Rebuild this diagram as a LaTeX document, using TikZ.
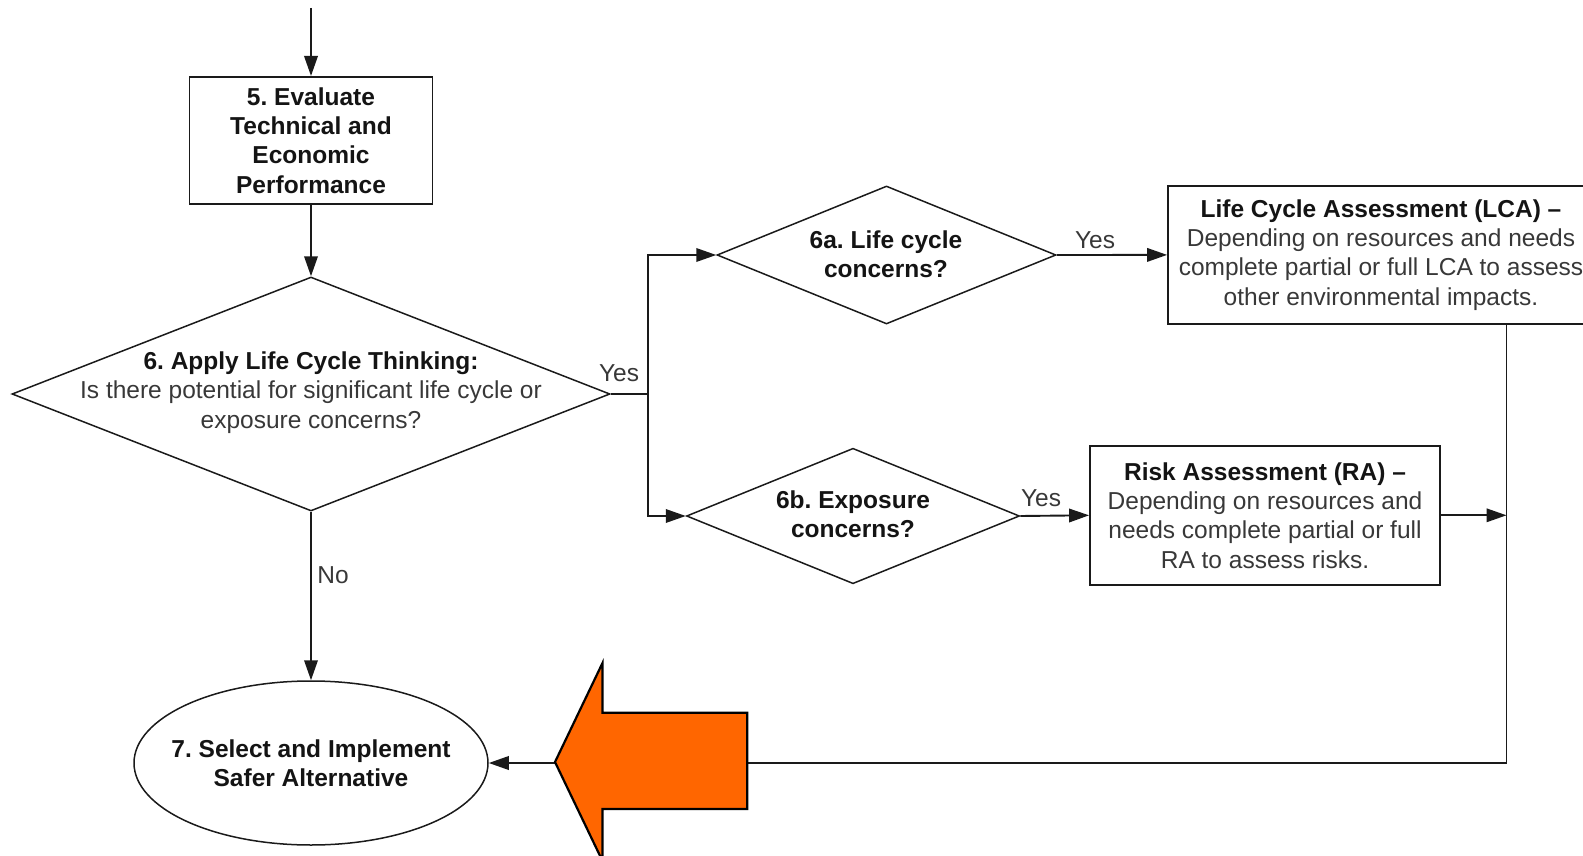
\documentclass[tikz,border=0pt]{standalone}
\usepackage{fontspec}
\setmainfont{Liberation Sans}
\usetikzlibrary{shapes.geometric,arrows.meta}
\definecolor{linec}{HTML}{1A1A1A}
\definecolor{txtc}{HTML}{383838}
\definecolor{boldc}{HTML}{141414}
\definecolor{orangec}{HTML}{FF6600}
\newcommand\bt[1]{{\bfseries\color{boldc}#1}}
\frenchspacing
\begin{document}
\frenchspacing
\begin{tikzpicture}[x=1pt,y=-1pt,
  every node/.style={font=\fontsize{24.5}{29.3}\selectfont\frenchspacing, text=txtc},
  boxn/.style={draw=linec, line width=1.8pt, rectangle, inner sep=0pt, align=center},
  dia/.style={draw=linec, line width=1.5pt, diamond, inner sep=0pt},
  ell/.style={draw=linec, line width=1.5pt, ellipse, inner sep=0pt},
  lbl/.style={align=center, inner sep=0pt},
  conn/.style={draw=linec, line width=1.9pt},
  arr/.style={conn, -{Triangle[length=20pt,width=13.5pt]}},
  bigarrow/.style={draw=black, line width=2.2pt, fill=orangec, line join=miter}
]
\useasboundingbox (0,0) rectangle (1583,856);
\clip (0,0) rectangle (1583,856);

% nodes
\node[boxn, minimum width=243pt, minimum height=127pt] (b5) at (311,140.4)
  {\bt{5. Evaluate}\\\bt{Technical and}\\\bt{Economic}\\\bt{Performance}};

\node[dia, minimum width=598pt, minimum height=234pt] (d6) at (311,394) {};
\node[lbl] (d6t) at (311,392.5)
  {\bt{6. Apply Life Cycle Thinking:}\\Is there potential for significant life cycle or\\exposure concerns?};

\node[dia, minimum width=339pt, minimum height=138pt] (d6a) at (886.5,255) {};
\node[lbl] (d6at) at (886,254) {\bt{6a. Life cycle}\\\bt{concerns?}};

\node[boxn, minimum width=426pt, minimum height=138.3pt] (lca) at (1381,254.9)
  {\bt{Life Cycle Assessment (LCA) –}\\Depending on resources and needs\\complete partial or full LCA to assess\\other environmental impacts.};

\node[dia, minimum width=333pt, minimum height=135.5pt] (d6b) at (853,516) {};
\node[lbl] (d6bt) at (853,514.5) {\bt{6b. Exposure}\\\bt{concerns?}};

\node[boxn, minimum width=350pt, minimum height=138.6pt] (ra) at (1265,515.3)
  {\bt{Risk Assessment (RA) –}\\Depending on resources and\\needs complete partial or full\\RA to assess risks.};

\node[ell, minimum width=354pt, minimum height=164pt] (e7) at (311,763) {};
\node[lbl] (e7t) at (311,763) {\bt{7. Select and Implement}\\\bt{Safer Alternative}};

% labels
\node[lbl] (y6) at (619,373.5) {Yes};
\node[lbl] (y6a) at (1095,240) {Yes};
\node[lbl] (y6b) at (1041,498) {Yes};
\node[lbl] (n6) at (333,575) {No};

% connectors
\coordinate (start) at (311,8);
\coordinate (br) at (648.3,394);
\coordinate (rx) at (1506.5,0);
\draw[arr] (start) -- (b5.north);
\draw[arr] (b5.south) -- (d6.north);
\draw[conn] (d6.east) -- (br);
\draw[arr] (br) |- (d6a.west);
\draw[arr] (br) |- (d6b.west);
\draw[arr] (d6a.east) -- (lca.west);
\draw[arr] (d6b.east) -- (ra.west);
\draw[arr] (ra.east) -- (ra.east -| rx);
\draw[arr] (lca.south -| rx) |- (e7.east);
\draw[arr] (d6.south) -- (e7.north);

% big orange arrow
\draw[bigarrow] (555,762) -- (602.5,663) -- (602.5,712.7) -- (747.3,712.7)
  -- (747.3,809) -- (602.5,809) -- (602.5,861) -- cycle;
\end{tikzpicture}
\end{document}
